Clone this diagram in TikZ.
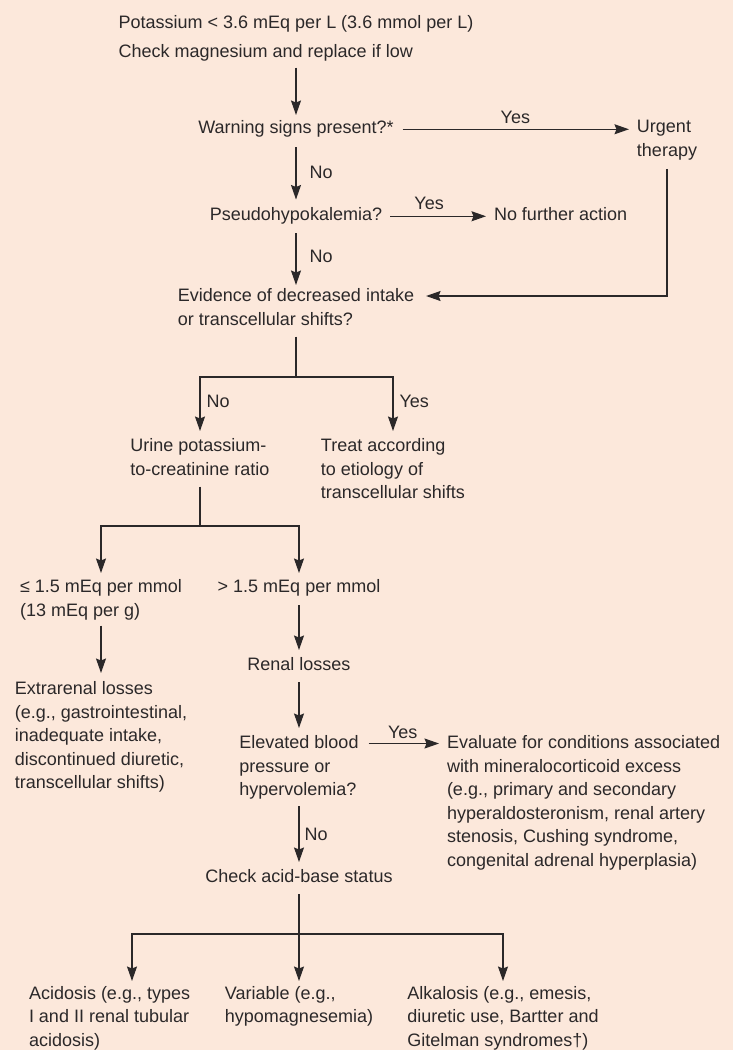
\documentclass[tikz,border=0pt]{standalone}
\usepackage{fontspec}
\setmainfont{Liberation Sans}
\usetikzlibrary{arrows.meta,calc}
\definecolor{bg}{HTML}{FCE8DB}
\definecolor{ink}{HTML}{2B2829}
\newcommand\flowstrut{\rule[-4.5pt]{0pt}{17.5pt}}
\begin{document}
\begin{tikzpicture}[x=1pt,y=-1pt,
  txt/.style={anchor=north, inner sep=0pt, outer sep=0pt, align=left,
    font=\fontsize{18}{23.6}\selectfont, text=ink,
    execute at begin node=\flowstrut, execute at end node=\flowstrut},
  lbl/.style={inner sep=0pt, font=\fontsize{18}{23.6}\selectfont, text=ink},
  ln/.style={draw=ink, line width=1.2pt},
  arr/.style={ln, -{Stealth[length=14.5pt,width=10pt,inset=2pt]}},
]
\fill[bg] (0,0) rectangle (733,1050);
\useasboundingbox (0,0) rectangle (733,1050);

\node[txt] (top) at (296,15.2) {Potassium < 3.6 mEq per L (3.6 mmol per L)\\[5.3pt]Check magnesium and replace if low};
\node[txt] (warn) at (296,120.5) {Warning signs present?*};
\node[txt] (urg) at (667,120.5) {Urgent\\therapy};
\node[txt] (pseudo) at (296,207.5) {Pseudohypokalemia?};
\node[txt,anchor=north west] (nfa) at (494,207.5) {No further action};
\node[txt] (evid) at (296,288.5) {Evidence of decreased intake\\or transcellular shifts?};
\node[txt] (urine) at (200,438.5) {Urine potassium-\\to-creatinine ratio};
\node[txt] (treat) at (393,438.5) {Treat according\\to etiology of\\transcellular shifts};
\node[txt] (le) at (101,579.5) {≤ 1.5 mEq per mmol\\(13 mEq per g)};
\node[txt] (gt) at (299,579.5) {> 1.5 mEq per mmol};
\node[txt] (extra) at (101,681.5) {Extrarenal losses\\(e.g., gastrointestinal,\\inadequate intake,\\discontinued diuretic,\\transcellular shifts)};
\node[txt] (renal) at (299,657.5) {Renal losses};
\node[txt] (elev) at (299,735.5) {Elevated blood\\pressure or\\hypervolemia?};
\node[txt,anchor=north west] (eval) at (447,735.5) {Evaluate for conditions associated\\with mineralocorticoid excess\\(e.g., primary and secondary\\hyperaldosteronism, renal artery\\stenosis, Cushing syndrome,\\congenital adrenal hyperplasia)};
\node[txt] (chk) at (299,869.5) {Check acid-base status};
\node[txt,anchor=north west] (acid) at (29,986) {Acidosis (e.g., types\\I and II renal tubular\\acidosis)};
\node[txt] (var) at (299,986) {Variable (e.g.,\\hypomagnesemia)};
\node[txt] (alk) at (503,986) {Alkalosis (e.g., emesis,\\diuretic use, Bartter and\\Gitelman syndromes†)};

\draw[arr, shorten <=6pt, shorten >=5.5pt] (top.south) -- (warn.north);
\draw[arr, shorten <=9pt, shorten >=8pt] (warn.east) -- (warn.east -| urg.west)
  node[lbl, midway, anchor=south, yshift=5pt] {Yes};
\draw[arr, shorten <=9pt, shorten >=8pt] (warn.south) -- (pseudo.north)
  node[lbl, midway, anchor=west, xshift=13pt] {No};
\draw[arr, shorten <=8pt, shorten >=8pt] (pseudo.east) -- (nfa.west)
  node[lbl, pos=0.42, anchor=south, yshift=6pt] {Yes};
\draw[arr, shorten <=8pt, shorten >=3.5pt] (pseudo.south) -- (evid.north)
  node[lbl, midway, anchor=west, xshift=13pt] {No};
\draw[arr, shorten <=8pt, shorten >=12pt] (urg.south) |- ($(evid.north east)+(0,-7.5pt)$);

\coordinate (s1) at (296,377);
\draw[ln, shorten <=7pt] (evid.south) -- (s1);
\draw[arr, shorten >=7.5pt] (s1) -| (urine.north) node[lbl, pos=0.7, anchor=west, xshift=6pt] {No};
\draw[arr, shorten >=7.5pt] (s1) -| (treat.north) node[lbl, pos=0.7, anchor=west, xshift=6pt] {Yes};

\coordinate (s2) at (200,526);
\draw[ln, shorten <=7pt] (urine.south) -- (s2);
\draw[arr, shorten >=6.5pt] (s2) -| (le.north);
\draw[arr, shorten >=6.5pt] (s2) -| (gt.north);
\draw[arr, shorten <=5pt, shorten >=8.5pt] (le.south) -- (extra.north);
\draw[arr, shorten <=8pt, shorten >=7.5pt] (gt.south) -- (renal.north);
\draw[arr, shorten <=7pt, shorten >=7.5pt] (renal.south) -- (elev.north);
\draw[arr, shorten <=10pt, shorten >=8pt] ($(elev.north east)+(0,-8pt)$) -- ($(eval.north west)+(0,-8pt)$)
  node[lbl, midway, anchor=south, yshift=4pt] {Yes};
\draw[arr, shorten <=6pt, shorten >=7.5pt] (elev.south) -- (chk.north)
  node[lbl, midway, anchor=west, xshift=5pt] {No};

\coordinate (s3) at (299,934);
\coordinate (s3l) at (132,934);
\draw[ln, shorten <=7pt] (chk.south) -- (s3);
\draw[arr, shorten >=5pt] (s3) -- (var.north);
\draw[arr, shorten >=5pt] (s3) -| (alk.north);
\draw[arr, shorten >=5pt] (s3) -- (s3l) -- (s3l |- acid.north);
\end{tikzpicture}
\end{document}
